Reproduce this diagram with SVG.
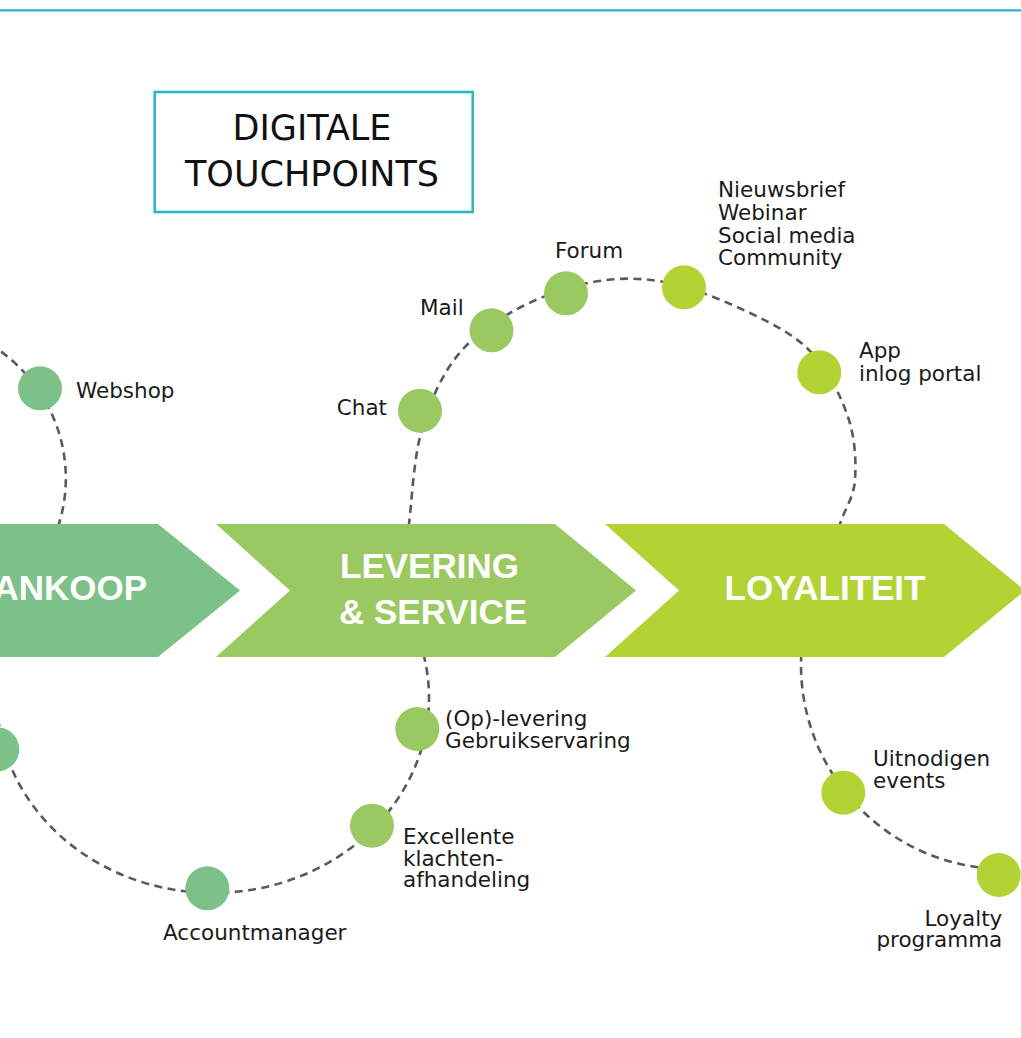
<svg xmlns="http://www.w3.org/2000/svg" width="1021" height="1038" viewBox="0 0 1021 1038">
<style>
.lbl{font-family:"DejaVu Sans","Liberation Sans",sans-serif;font-size:21.5px;fill:#1a1a1a}
.ttl{font-family:"DejaVu Sans","Liberation Sans",sans-serif;font-size:35px;fill:#111;text-anchor:middle}
.chv{font-family:"Liberation Sans",Arial,sans-serif;font-weight:bold;font-size:35px;fill:#fff}
.dash{fill:none;stroke:#5a5a5a;stroke-width:2.6;stroke-dasharray:8 5.5}
.g1{fill:#7cc187}
.g2{fill:#9ac962}
.g3{fill:#b3d335}
</style>
<rect x="0" y="0" width="1021" height="1038" fill="#fff"/>
<line x1="0" y1="10.3" x2="1021" y2="10.3" stroke="#2bb5c3" stroke-width="2.2"/>
<g id="title">
<rect x="154.7" y="92" width="318" height="120" fill="#fff" stroke="#2bb5c3" stroke-width="2.5"/>
<text class="ttl" x="312" y="140">DIGITALE<tspan x="312" dy="45.5">TOUCHPOINTS</tspan></text>
</g>
<g id="connectors">
<path class="dash" d="M -10 344 A 166 160 0 0 1 53 540"/>
<path class="dash" d="M 419.6 641 A 216 195 0 1 1 -3 698"/>
<path class="dash" d="M 403 580 L 409 524 C 412 499.5 413.5 460.3 421 433 C 428.5 405.7 439.2 380 454 360 C 468.8 340 487.7 325.8 510 313 C 532.3 300.2 562.3 288.2 588 283 C 613.7 277.8 637 277 664 282 C 691 287 725.3 301.2 750 313 C 774.7 324.8 795.7 335.7 812 353 C 828.3 370.3 840.8 395.8 848 417 C 855.2 438.2 856.3 462.2 855 480 C 853.7 497.8 845 508.2 840 524 L 825 575"/>
<path class="dash" d="M 801.5 640 L 801 665 A 204 204 0 0 0 1005 869"/>
</g>
<g id="stage-aankoop">
<polygon class="g1" points="-30,524 158,524 240,590.5 158,657 -30,657"/>
<text class="chv" x="147" y="600" text-anchor="end">ANKOOP</text>
</g>
<g id="stage-levering">
<polygon class="g2" points="216,524 555,524 636,590.5 555,657 216,657 290,590.5"/>
<text class="chv" x="429.5" y="577.5" text-anchor="middle">LEVERING<tspan x="433" dy="46">&amp; SERVICE</tspan></text>
</g>
<g id="stage-loyaliteit">
<polygon class="g3" points="605,524 944,524 1025,590.5 944,657 605,657 679,590.5"/>
<text class="chv" x="825" y="600" text-anchor="middle">LOYALITEIT</text>
</g>
<g id="tp-webshop">
<circle class="g1" cx="40" cy="388.3" r="22"/>
<text class="lbl" x="76" y="398">Webshop</text>
</g>
<g id="tp-left">
<circle class="g1" cx="-2.7" cy="749.3" r="22"/>
</g>
<g id="tp-accountmanager">
<circle class="g1" cx="207.3" cy="888.3" r="22"/>
<text class="lbl" x="163" y="940">Accountmanager</text>
</g>
<g id="tp-excellente">
<circle class="g2" cx="372" cy="825.7" r="22"/>
<text class="lbl" x="403" y="844">Excellente<tspan x="403" dy="21.6">klachten-</tspan><tspan x="403" dy="21.7">afhandeling</tspan></text>
</g>
<g id="tp-oplevering">
<circle class="g2" cx="417.3" cy="729" r="22"/>
<text class="lbl" x="445" y="726">(Op)-levering<tspan x="445" dy="22">Gebruikservaring</tspan></text>
</g>
<g id="tp-chat">
<circle class="g2" cx="420" cy="410.7" r="22"/>
<text class="lbl" x="387" y="415" text-anchor="end">Chat</text>
</g>
<g id="tp-mail">
<circle class="g2" cx="491.5" cy="330.3" r="22"/>
<text class="lbl" x="420" y="315">Mail</text>
</g>
<g id="tp-forum">
<circle class="g2" cx="566" cy="293.3" r="22"/>
<text class="lbl" x="555" y="258.3">Forum</text>
</g>
<g id="tp-nieuwsbrief">
<circle class="g3" cx="684" cy="287.3" r="22"/>
<text class="lbl" x="718" y="197.3">Nieuwsbrief<tspan x="718" dy="22.7">Webinar</tspan><tspan x="718" dy="22.7">Social media</tspan><tspan x="718" dy="22.3">Community</tspan></text>
</g>
<g id="tp-app">
<circle class="g3" cx="819.3" cy="372.3" r="22"/>
<text class="lbl" x="859" y="358.3">App<tspan x="859" dy="22.4">inlog portal</tspan></text>
</g>
<g id="tp-uitnodigen">
<circle class="g3" cx="843.3" cy="792.7" r="22"/>
<text class="lbl" x="873" y="766">Uitnodigen<tspan x="873" dy="21.5">events</tspan></text>
</g>
<g id="tp-loyalty">
<circle class="g3" cx="998.7" cy="875" r="22"/>
<text class="lbl" x="1002.3" y="926" text-anchor="end">Loyalty<tspan x="1002.3" dy="21">programma</tspan></text>
</g>
</svg>
